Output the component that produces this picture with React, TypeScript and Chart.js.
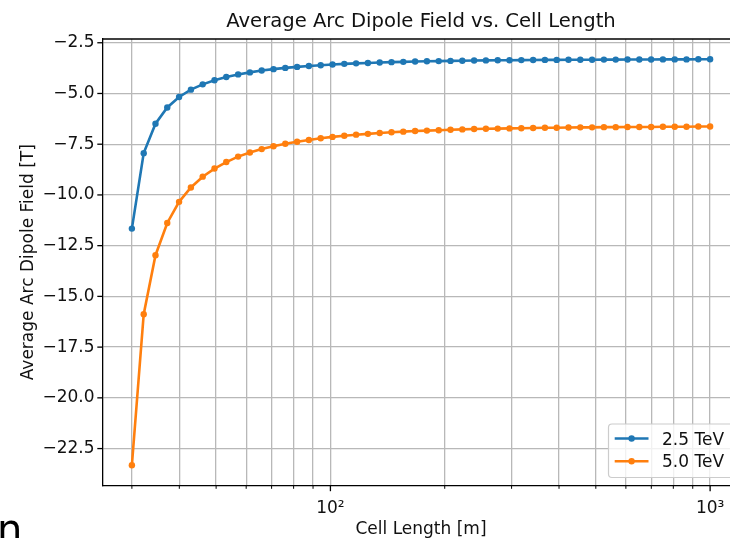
import React, { useEffect, useRef } from "react";
import { Chart, registerables } from "chart.js";

Chart.register(...registerables);

// ---------------- data ----------------
const cellLength = [
  30, 32.23, 34.62, 37.18, 39.94, 42.91, 46.09, 49.51, 53.18, 57.13,
  61.36, 65.92, 70.81, 76.06, 81.7, 87.76, 94.27, 101.27, 108.78, 116.85,
  125.52, 134.83, 144.83, 155.58, 167.12, 179.52, 192.84, 207.14, 222.51, 239.02,
  256.75, 275.8, 296.26, 318.23, 341.84, 367.2, 394.44, 423.7, 455.14, 488.9,
  525.17, 564.13, 605.98, 650.94, 699.23, 751.1, 806.82, 866.68, 930.97, 1000,
];

const field25TeV = [
  -11.66, -7.94, -6.49, -5.69, -5.17, -4.81, -4.55, -4.35, -4.19, -4.06,
  -3.96, -3.87, -3.8, -3.74, -3.69, -3.645, -3.605, -3.57, -3.54, -3.515,
  -3.495, -3.475, -3.455, -3.44, -3.425, -3.415, -3.405, -3.395, -3.385, -3.375,
  -3.37, -3.365, -3.36, -3.355, -3.35, -3.345, -3.345, -3.34, -3.335, -3.335,
  -3.33, -3.33, -3.325, -3.325, -3.325, -3.32, -3.32, -3.32, -3.315, -3.315,
];

const field50TeV = [
  -23.32, -15.88, -12.97, -11.38, -10.34, -9.63, -9.1, -8.7, -8.38, -8.11,
  -7.91, -7.74, -7.6, -7.48, -7.38, -7.29, -7.21, -7.14, -7.08, -7.03,
  -6.99, -6.95, -6.91, -6.88, -6.85, -6.83, -6.81, -6.79, -6.77, -6.75,
  -6.74, -6.73, -6.72, -6.71, -6.7, -6.69, -6.69, -6.68, -6.67, -6.67,
  -6.66, -6.66, -6.65, -6.65, -6.65, -6.64, -6.64, -6.64, -6.63, -6.63,
];

const seriesNames = ["2.5 TeV", "5.0 TeV"];
const seriesColors = ["#1f77b4", "#ff7f0e"];

const yTickValues = [-2.5, -5, -7.5, -10, -12.5, -15, -17.5, -20, -22.5];
const xTickValues = [30, 40, 50, 60, 70, 80, 90, 100, 200, 300, 400, 500, 600, 700, 800, 900, 1000];
const xTickLabels: Record<number, string> = { 100: "10\u00B2", 1000: "10\u00B3" };

const titleText = "Average Arc Dipole Field vs. Cell Length";
const xTitleText = "Cell Length [m]";
const yTitleText = "Average Arc Dipole Field [T]";

// axis ranges (the reference is cropped on the right; the axes continue past the edge)
const X_MIN = 25.18;
const X_MAX = 1191.4;
const Y_MIN = -24.32;
const Y_MAX = -2.315;

const FONT = "'DejaVu Sans', sans-serif";
const TICK_PX = 17;
const TITLE_PX = 19.6;
const TEXT_COLOR = "#111";

export default function App() {
  const ref = useRef<HTMLCanvasElement | null>(null);

  useEffect(() => {
    const canvas = ref.current;
    if (!canvas) return;

    const deco = {
      id: "deco",
      afterDraw(chart: any) {
        const { ctx, chartArea: a } = chart;
        const xs = chart.scales.x;
        const ys = chart.scales.y;
        ctx.save();
        const seg = (x1: number, y1: number, x2: number, y2: number, w: number, c: string) => {
          ctx.beginPath();
          ctx.strokeStyle = c;
          ctx.lineWidth = w;
          ctx.moveTo(x1, y1);
          ctx.lineTo(x2, y2);
          ctx.stroke();
        };
        // top spine
        seg(a.left - 0.65, a.top, a.right, a.top, 1.3, "#000");
        // tick marks
        for (const v of yTickValues) {
          const p = ys.getPixelForValue(v);
          seg(a.left - 5.7, p, a.left, p, 1.3, "#000");
        }
        for (const v of xTickValues) {
          const p = xs.getPixelForValue(v);
          const major = xTickLabels[v] !== undefined;
          seg(p, a.bottom, p, a.bottom + (major ? 5.7 : 3.3), major ? 1.3 : 1.0, "#000");
        }
        // title
        const cx = (a.left + a.right) / 2;
        ctx.fillStyle = TEXT_COLOR;
        ctx.textAlign = "center";
        ctx.textBaseline = "alphabetic";
        ctx.font = `${TITLE_PX}px ${FONT}`;
        ctx.fillText(titleText, cx, 27);
        // x title
        ctx.font = `${TICK_PX}px ${FONT}`;
        ctx.fillText(xTitleText, cx, 533.5);
        // y title
        ctx.save();
        ctx.translate(33, (a.top + a.bottom) / 2);
        ctx.rotate(-Math.PI / 2);
        ctx.fillText(yTitleText, 0, 0);
        ctx.restore();

        // legend (lower right, partly cut by the image edge)
        const bx = 608.5, by = 424, bw = 127, bh = 53.5, r = 3.5;
        ctx.beginPath();
        ctx.moveTo(bx + r, by);
        ctx.lineTo(bx + bw - r, by);
        ctx.arcTo(bx + bw, by, bx + bw, by + r, r);
        ctx.lineTo(bx + bw, by + bh - r);
        ctx.arcTo(bx + bw, by + bh, bx + bw - r, by + bh, r);
        ctx.lineTo(bx + r, by + bh);
        ctx.arcTo(bx, by + bh, bx, by + bh - r, r);
        ctx.lineTo(bx, by + r);
        ctx.arcTo(bx, by, bx + r, by, r);
        ctx.closePath();
        ctx.fillStyle = "rgba(255,255,255,0.8)";
        ctx.fill();
        ctx.strokeStyle = "#cccccc";
        ctx.lineWidth = 1.2;
        ctx.stroke();
        const rows = [438.5, 461.3];
        chart.data.datasets.forEach((ds: any, i: number) => {
          const yy = rows[i];
          seg(614.7, yy, 648.5, yy, 2.6, ds.borderColor);
          ctx.beginPath();
          ctx.fillStyle = ds.borderColor;
          ctx.arc(631.6, yy, 3.2, 0, Math.PI * 2);
          ctx.fill();
          ctx.fillStyle = TEXT_COLOR;
          ctx.textAlign = "left";
          ctx.textBaseline = "alphabetic";
          ctx.font = `${TICK_PX}px ${FONT}`;
          ctx.fillText(ds.label, 662, yy + 6);
        });

        // partial glyph visible at the lower-left edge of the reference
        ctx.fillStyle = "#000";
        ctx.font = `40px ${FONT}`;
        ctx.textAlign = "left";
        ctx.fillText("n", -3, 543);
        ctx.restore();
      },
    };

    const chart = new Chart(canvas, {
      type: "line",
      data: {
        datasets: [
          {
            label: seriesNames[0],
            data: cellLength.map((x, i) => ({ x, y: field25TeV[i] })),
            borderColor: seriesColors[0],
            backgroundColor: seriesColors[0],
            borderWidth: 2.6,
            pointRadius: 3.2,
            pointBorderWidth: 0,
            pointBackgroundColor: seriesColors[0],
            tension: 0,
          },
          {
            label: seriesNames[1],
            data: cellLength.map((x, i) => ({ x, y: field50TeV[i] })),
            borderColor: seriesColors[1],
            backgroundColor: seriesColors[1],
            borderWidth: 2.6,
            pointRadius: 3.2,
            pointBorderWidth: 0,
            pointBackgroundColor: seriesColors[1],
            tension: 0,
          },
        ],
      },
      options: {
        responsive: false,
        animation: false,
        devicePixelRatio: 1,
        layout: { padding: { left: 0, right: 21, top: 39, bottom: 0 } },
        plugins: {
          legend: { display: false },
          title: { display: false },
          tooltip: { enabled: false },
        },
        scales: {
          x: {
            type: "logarithmic",
            min: X_MIN,
            max: X_MAX,
            afterBuildTicks: (s: any) => {
              s.ticks = xTickValues.map((v) => ({ value: v }));
            },
            afterFit: (s: any) => {
              s.height = 52.5;
            },
            ticks: {
              autoSkip: false,
              maxRotation: 0,
              minRotation: 0,
              padding: 13,
              color: TEXT_COLOR,
              font: { family: FONT, size: TICK_PX },
              callback: (v: any) => xTickLabels[Math.round(Number(v))] ?? "",
            },
            grid: { color: "#b8b8b8", lineWidth: 1.3, drawTicks: false },
            border: { color: "#000", width: 1.3 },
          },
          y: {
            type: "linear",
            min: Y_MIN,
            max: Y_MAX,
            afterBuildTicks: (s: any) => {
              s.ticks = yTickValues.map((v) => ({ value: v }));
            },
            afterFit: (s: any) => {
              s.width = 103;
            },
            ticks: {
              padding: 8.5,
              color: TEXT_COLOR,
              font: { family: FONT, size: TICK_PX },
              callback: (v: any) => Number(v).toFixed(1).replace("-", "\u2212"),
            },
            grid: { color: "#b8b8b8", lineWidth: 1.3, drawTicks: false },
            border: { color: "#000", width: 1.3 },
          },
        },
      },
      plugins: [deco],
    });

    return () => chart.destroy();
  }, []);

  return (
    <div
      style={{
        position: "absolute",
        left: 0,
        top: 0,
        width: 730,
        height: 538,
        overflow: "hidden",
        background: "#fff",
      }}
    >
      <canvas ref={ref} width={760} height={538} style={{ display: "block" }} />
    </div>
  );
}
